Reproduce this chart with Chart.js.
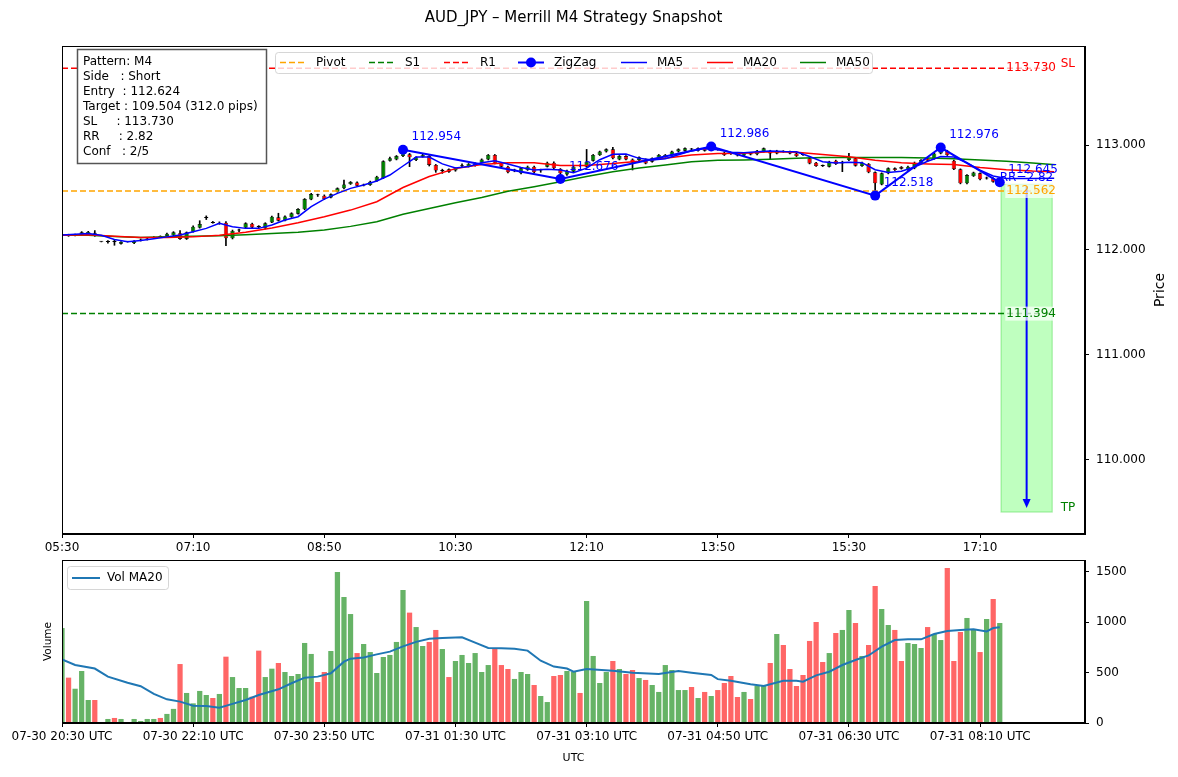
<!DOCTYPE html>
<html><head><meta charset="utf-8">
<script src="https://cdn.jsdelivr.net/npm/chart.js@4.4.0/dist/chart.umd.min.js"></script>
<style>
body{margin:0;background:#fff;width:1178px;height:777px;overflow:hidden;position:relative;}
#c1{position:absolute;left:0;top:0;}
#c2{position:absolute;left:0;top:536px;}
</style></head><body>
<canvas id="c1" width="1178" height="560"></canvas>
<canvas id="c2" width="1178" height="241"></canvas>
<script>
// ---------- DATA ----------
const candleOpen = [112.140,112.145,112.140,112.143,112.155,112.162,112.078,112.075,112.077,112.060,
112.080,112.066,112.090,112.100,112.115,112.127,112.133,112.140,112.160,112.105,
112.174,112.212,112.305,112.263,112.248,112.260,112.111,112.185,112.212,112.250,
112.224,112.206,112.263,112.311,112.282,112.314,112.346,112.387,112.482,112.526,
112.517,112.500,112.555,112.587,112.628,112.644,112.615,112.619,112.657,112.685,
112.850,112.863,112.895,112.911,112.857,112.889,112.895,112.810,112.752,112.768,
112.756,112.797,112.794,112.803,112.832,112.863,112.905,112.825,112.794,112.758,
112.730,112.762,112.794,112.758,112.794,112.832,112.771,112.720,112.746,112.806,
112.794,112.851,112.905,112.937,112.959,112.863,112.895,112.863,112.857,112.863,
112.841,112.873,112.889,112.905,112.937,112.946,112.962,112.946,112.968,112.955,
112.962,112.927,112.925,112.920,112.900,112.925,112.911,112.937,112.946,112.920,
112.940,112.937,112.920,112.910,112.873,112.832,112.803,112.794,112.851,112.825,
112.857,112.873,112.800,112.819,112.740,112.625,112.730,112.778,112.790,112.762,
112.778,112.825,112.870,112.870,112.920,112.946,112.851,112.768,112.635,112.705,
112.730,112.680,112.683,112.635];
const candleHigh = [112.150,112.150,112.152,112.175,112.178,112.185,112.080,112.090,112.095,112.080,
112.083,112.090,112.105,112.110,112.128,112.135,112.162,112.175,112.185,112.172,
112.230,112.279,112.325,112.272,112.268,112.270,112.190,112.200,112.260,112.256,
112.232,112.260,112.322,112.350,112.325,112.355,112.395,112.490,112.540,112.532,
112.525,112.536,112.592,112.666,112.652,112.650,112.628,112.656,112.703,112.850,
112.885,112.900,112.954,112.920,112.888,112.912,112.900,112.815,112.770,112.773,
112.783,112.820,112.824,112.830,112.868,112.910,112.910,112.830,112.800,112.770,
112.783,112.800,112.800,112.770,112.838,112.840,112.776,112.760,112.800,112.812,
112.958,112.910,112.942,112.964,112.978,112.900,112.900,112.868,112.888,112.868,
112.878,112.910,112.910,112.942,112.964,112.973,112.968,112.973,112.973,112.986,
112.968,112.932,112.930,112.925,112.925,112.930,112.950,112.972,112.950,112.950,
112.946,112.942,112.925,112.915,112.878,112.836,112.810,112.846,112.856,112.846,
112.920,112.878,112.838,112.824,112.745,112.735,112.783,112.783,112.795,112.800,
112.838,112.862,112.875,112.925,112.976,112.950,112.856,112.773,112.719,112.742,
112.735,112.695,112.688,112.655];
const candleLow = [112.041,112.130,112.135,112.140,112.150,112.130,112.077,112.065,112.045,112.055,
112.075,112.060,112.085,112.095,112.110,112.118,112.130,112.135,112.100,112.100,
112.170,112.208,112.290,112.255,112.245,112.041,112.105,112.175,112.205,112.210,
112.210,112.200,112.260,112.275,112.278,112.310,112.342,112.383,112.478,112.510,
112.480,112.495,112.550,112.582,112.624,112.608,112.610,112.615,112.652,112.680,
112.845,112.858,112.890,112.794,112.852,112.884,112.800,112.740,112.730,112.740,
112.750,112.790,112.790,112.798,112.828,112.858,112.820,112.790,112.735,112.745,
112.725,112.758,112.735,112.740,112.790,112.770,112.676,112.710,112.740,112.795,
112.790,112.846,112.900,112.932,112.868,112.858,112.858,112.762,112.852,112.820,
112.836,112.868,112.884,112.900,112.932,112.941,112.952,112.941,112.941,112.950,
112.950,112.900,112.910,112.895,112.895,112.905,112.906,112.932,112.863,112.915,
112.930,112.915,112.890,112.900,112.820,112.795,112.795,112.790,112.814,112.746,
112.852,112.798,112.795,112.735,112.518,112.620,112.725,112.757,112.770,112.757,
112.773,112.820,112.845,112.865,112.915,112.900,112.765,112.630,112.630,112.700,
112.668,112.675,112.645,112.630];
const candleClose = [112.145,112.140,112.145,112.168,112.172,112.155,112.079,112.077,112.075,112.076,
112.078,112.085,112.100,112.106,112.122,112.123,112.155,112.168,112.105,112.168,
112.222,112.247,112.310,112.258,112.254,112.111,112.181,112.192,112.254,112.215,
112.220,112.254,112.317,112.279,112.320,112.349,112.390,112.485,112.533,112.522,
112.485,112.530,112.587,112.625,112.647,112.612,112.622,112.651,112.698,112.845,
112.875,112.895,112.935,112.883,112.883,112.905,112.810,112.757,112.757,112.746,
112.778,112.803,112.819,112.825,112.863,112.905,112.825,112.794,112.740,112.765,
112.778,112.794,112.740,112.765,112.832,112.778,112.730,112.755,112.794,112.800,
112.841,112.905,112.937,112.959,112.873,112.895,112.863,112.832,112.883,112.825,
112.873,112.905,112.905,112.937,112.959,112.968,112.958,112.968,112.946,112.965,
112.955,112.905,112.915,112.900,112.920,112.910,112.946,112.968,112.920,112.946,
112.935,112.920,112.895,112.905,112.825,112.800,112.800,112.841,112.819,112.841,
112.883,112.803,112.832,112.740,112.635,112.730,112.778,112.762,112.775,112.794,
112.832,112.857,112.850,112.920,112.946,112.905,112.770,112.635,112.714,112.737,
112.673,112.690,112.650,112.648];
const volume = [942,450,340,516,228,228,0,40,50,40,
10,40,20,40,40,50,90,140,585,298,
195,318,278,248,288,658,456,347,347,261,
718,456,539,595,506,466,486,794,685,407,
506,714,1498,1250,1081,694,784,704,496,655,
675,804,1320,1095,952,764,804,923,734,456,
615,675,595,694,506,575,744,575,536,437,
506,486,377,268,208,466,476,516,506,298,
1210,665,397,506,615,536,486,526,446,427,
377,308,575,526,327,327,357,248,308,268,
327,397,466,258,308,238,367,367,595,883,
774,536,367,476,814,1002,605,694,893,923,
1121,992,665,774,1359,1131,972,923,615,794,
784,744,952,883,823,1538,615,903,1042,923,
704,1032,1230,992];
const ma5 = [[0,112.143],[2,112.15],[4,112.158],[6,112.14],[8,112.1],[10,112.079],[12,112.09],[14,112.108],[16,112.125],[18,112.143],
[20,112.174],[22,112.206],[24,112.254],[26,112.222],[28,112.206],[30,112.206],[32,112.238],[34,112.286],[36,112.317],[38,112.413],
[40,112.485],[42,112.539],[44,112.587],[46,112.619],[48,112.657],[50,112.714],[52,112.8],[54,112.885],[56,112.885],[58,112.82],
[60,112.782],[62,112.795],[64,112.83],[66,112.85],[68,112.82],[70,112.785],[72,112.762],[74,112.768],[76,112.762],[78,112.736],
[80,112.78],[82,112.86],[84,112.912],[86,112.914],[88,112.873],[90,112.857],[92,112.87],[94,112.908],[96,112.944],[98,112.966],
[100,112.955],[102,112.93],[104,112.926],[106,112.935],[108,112.942],[110,112.937],[112,112.935],[114,112.89],[116,112.84],[118,112.828],
[120,112.835],[122,112.832],[124,112.765],[126,112.738],[128,112.75],[130,112.79],[132,112.845],[134,112.89],[136,112.885],[138,112.83],
[140,112.76],[142,112.705],[144,112.68],[148,112.68],[151.3,112.683]];
const ma20 = [[0,112.14],[4,112.145],[8,112.13],[12,112.118],[16,112.12],[20,112.125],[24,112.14],[28,112.168],[32,112.21],[36,112.26],
[40,112.317],[44,112.38],[48,112.46],[52,112.595],[56,112.70],[60,112.775],[64,112.815],[68,112.832],[72,112.83],[76,112.805],
[80,112.805],[84,112.825],[88,112.845],[92,112.873],[96,112.905],[100,112.918],[104,112.922],[108,112.935],[112,112.932],[116,112.91],
[120,112.888],[124,112.855],[128,112.83],[132,112.82],[136,112.815],[140,112.785],[144,112.765],[148,112.752],[151.3,112.746]];
const ma50 = [[0,112.14],[4,112.14],[8,112.128],[12,112.12],[16,112.125],[20,112.13],[24,112.135],[28,112.145],[32,112.157],[36,112.17],
[40,112.19],[44,112.225],[48,112.27],[52,112.34],[56,112.395],[60,112.45],[64,112.50],[68,112.56],[72,112.603],[76,112.65],
[80,112.70],[84,112.745],[88,112.78],[92,112.81],[96,112.84],[100,112.855],[104,112.858],[108,112.864],[112,112.875],[116,112.88],
[120,112.882],[124,112.882],[128,112.88],[132,112.877],[136,112.87],[140,112.858],[144,112.845],[148,112.828],[151.5,112.812]];
const volMA20 = [[0,632],[2,575],[5,540],[7,460],[10,400],[12,365],[14,288],[16,235],[18,212],[20,172],[22,168],[24,152],[26,190],[28,228],
[30,278],[33,334],[35,394],[37,450],[39,460],[41,493],[43,608],[44,638],[46,650],[48,681],[50,708],[52,760],[54,805],[56,835],[58,843],
[61,850],[63,797],[65,745],[67,741],[69,737],[71,718],[73,618],[75,560],[77,540],[78,509],[80,535],[84,519],[87,499],[91,486],[94,516],
[96,499],[99,476],[100,435],[102,420],[105,384],[107,367],[110,420],[112,420],[113,410],[115,473],[117,509],[119,575],[121,625],[123,670],
[125,757],[127,823],[129,830],[131,830],[133,883],[135,913],[137,923],[139,929],[141,909],[142,942],[143,949]];
const zigzagIdx = [52,76,99,124,134,143];
const zigzagVal = [112.954,112.676,112.986,112.518,112.976,112.645];
const pivotPrice = 112.562, s1Price = 111.394, r1Price = 113.730;
const entryPrice = 112.624, targetPrice = 109.504, slPrice = 113.730, rrValue = '2.82';
const infoLines = ['Pattern: M4','Side   : Short','Entry  : 112.624','Target : 109.504 (312.0 pips)','SL     : 113.730','RR     : 2.82','Conf   : 2/5'];
const xTickIdx = [0,20,40,60,80,100,120,140];
const priceTimeLabels = ['05:30','07:10','08:50','10:30','12:10','13:50','15:30','17:10'];
const volTimeLabels = ['07-30 20:30 UTC','07-30 22:10 UTC','07-30 23:50 UTC','07-31 01:30 UTC','07-31 03:10 UTC','07-31 04:50 UTC','07-31 06:30 UTC','07-31 08:10 UTC'];
const priceTicks = [110,111,112,113];
const volTicks = [0,500,1000,1500];

// ---------- HELPERS ----------
Chart.defaults.font.family = "'DejaVu Sans', sans-serif";
Chart.defaults.font.size = 12;
Chart.defaults.color = '#000';
const FONT = "'DejaVu Sans', sans-serif";
const idx = candleClose.map((_, i) => i);
const isUp = i => candleClose[i] >= candleOpen[i];
const pairs = arr => arr.map(p => ({x: p[0], y: p[1]}));
const hline = v => [{x: 0, y: v}, {x: 151, y: v}];

function text(ctx, s, x, y, color, size, align, base) {
  ctx.font = size + 'px ' + FONT;
  ctx.fillStyle = color; ctx.textAlign = align || 'left'; ctx.textBaseline = base || 'middle';
  ctx.fillText(s, x, y);
}
function roundRect(ctx, x, y, w, h, r) {
  ctx.beginPath();
  ctx.moveTo(x + r, y); ctx.lineTo(x + w - r, y); ctx.quadraticCurveTo(x + w, y, x + w, y + r);
  ctx.lineTo(x + w, y + h - r); ctx.quadraticCurveTo(x + w, y + h, x + w - r, y + h);
  ctx.lineTo(x + r, y + h); ctx.quadraticCurveTo(x, y + h, x, y + h - r);
  ctx.lineTo(x, y + r); ctx.quadraticCurveTo(x, y, x + r, y); ctx.closePath();
}
function frame(chart) {
  const a = chart.chartArea, ctx = chart.ctx;
  ctx.save(); ctx.strokeStyle = '#000'; ctx.lineWidth = 1;
  ctx.strokeRect(Math.round(a.left) + 0.5, Math.round(a.top) + 0.5, Math.round(a.right - a.left) - 1, Math.round(a.bottom - a.top) - 1);
  ctx.restore();
}
function xScale(labels, h) {
  return {
    type: 'linear', min: 0, max: 156, offset: false,
    afterBuildTicks: s => { s.ticks = xTickIdx.map(v => ({value: v})); },
    afterFit: s => { s.height = h; },
    ticks: {callback: (v, i) => labels[i], autoSkip: false, maxRotation: 0, padding: 3, font: {size: 12}, color: '#000'},
    grid: {offset: false, drawOnChartArea: false, drawTicks: true, tickLength: 4, color: '#000'},
    border: {display: true, color: '#000'}
  };
}
function yScale(min, max, ticks, fmt) {
  return {
    type: 'linear', position: 'right', min: min, max: max,
    afterBuildTicks: s => { s.ticks = ticks.map(v => ({value: v})); },
    afterFit: s => { s.width = 93; },
    ticks: {callback: fmt, padding: 7, font: {size: 12}, color: '#000'},
    grid: {offset: false, drawOnChartArea: false, drawTicks: true, tickLength: 4, color: '#000'},
    border: {display: true, color: '#000'}
  };
}

// ---------- PRICE CHART ----------
const legendItems = [
  {label: 'Pivot', color: '#ffa500', dash: [6, 3], tx: 316},
  {label: 'S1', color: '#008000', dash: [6, 3], tx: 405},
  {label: 'R1', color: '#ff0000', dash: [6, 3], tx: 480},
  {label: 'ZigZag', color: '#0000ff', dash: [], marker: true, tx: 554},
  {label: 'MA5', color: '#0000ff', dash: [], tx: 657},
  {label: 'MA20', color: '#ff0000', dash: [], tx: 743},
  {label: 'MA50', color: '#008000', dash: [], tx: 836}
];

const decor1 = {
  id: 'decor1',
  beforeDatasetsDraw(chart) {
    const {ctx, scales: {x, y}} = chart;
    const x0 = x.getPixelForValue(143.2), x1 = x.getPixelForValue(151);
    const y0 = y.getPixelForValue(entryPrice), y1 = y.getPixelForValue(targetPrice);
    ctx.save();
    ctx.fillStyle = 'rgba(0,255,0,0.25)';
    ctx.fillRect(x0, y0, x1 - x0, y1 - y0);
    ctx.strokeStyle = 'rgba(0,200,0,0.3)'; ctx.lineWidth = 1.2;
    ctx.strokeRect(x0, y0, x1 - x0, y1 - y0);
    ctx.restore();
  },
  afterDatasetsDraw(chart) {
    const {ctx, scales: {x, y}} = chart;
    ctx.save();
    const ax = x.getPixelForValue(147.1);
    const ay0 = y.getPixelForValue(entryPrice) + 2, ay1 = y.getPixelForValue(targetPrice) - 4;
    ctx.strokeStyle = '#0000ff'; ctx.fillStyle = '#0000ff'; ctx.lineWidth = 2;
    ctx.beginPath(); ctx.moveTo(ax, ay0); ctx.lineTo(ax, ay1 - 6); ctx.stroke();
    ctx.beginPath(); ctx.moveTo(ax, ay1); ctx.lineTo(ax - 4, ay1 - 9); ctx.lineTo(ax + 4, ay1 - 9); ctx.closePath(); ctx.fill();
    const lx = x.getPixelForValue(144);
    [[slPrice, '#ff0000'], [pivotPrice, '#ffa500'], [s1Price, '#008000']].forEach(([v, c]) => {
      const py = y.getPixelForValue(v);
      ctx.fillStyle = 'rgba(255,255,255,0.7)';
      ctx.fillRect(lx - 1, py - 7, 51, 14);
      text(ctx, v.toFixed(3), lx, py, c, 12);
    });
    const tx = x.getPixelForValue(152.3);
    text(ctx, 'SL', tx, y.getPixelForValue(slPrice) - 4, '#ff0000', 12);
    text(ctx, 'TP', tx, y.getPixelForValue(targetPrice) - 4, '#008000', 12);
    zigzagIdx.forEach((xi, k) => {
      text(ctx, zigzagVal[k].toFixed(3), x.getPixelForValue(xi) + 8.5, y.getPixelForValue(zigzagVal[k]) - 12.5, '#0000ff', 12);
    });
    text(ctx, 'RR=' + rrValue, x.getPixelForValue(143), y.getPixelForValue(entryPrice) - 1, '#0000ff', 12, 'left', 'bottom');
    ctx.restore();
    frame(chart);
    ctx.save();
    roundRect(ctx, 275.5, 52.5, 597, 21, 3);
    ctx.fillStyle = 'rgba(255,255,255,0.8)'; ctx.fill();
    ctx.strokeStyle = 'rgba(204,204,204,0.8)'; ctx.lineWidth = 1; ctx.stroke();
    legendItems.forEach(it => {
      const cy = 62.5;
      ctx.strokeStyle = it.color; ctx.lineWidth = it.marker ? 2 : 1.5; ctx.setLineDash(it.dash);
      ctx.beginPath(); ctx.moveTo(it.tx - 36, cy); ctx.lineTo(it.tx - 10, cy); ctx.stroke();
      ctx.setLineDash([]);
      if (it.marker) { ctx.fillStyle = it.color; ctx.beginPath(); ctx.arc(it.tx - 23, cy, 5, 0, Math.PI * 2); ctx.fill(); }
      text(ctx, it.label, it.tx, cy, '#000', 12);
    });
    ctx.fillStyle = '#fff'; ctx.fillRect(77, 49, 190, 115);
    ctx.strokeStyle = '#555'; ctx.lineWidth = 1.5; ctx.strokeRect(77.5, 49.5, 189, 114);
    infoLines.forEach((s, k) => text(ctx, s, 83, 62 + 15 * k, '#000', 12));
    ctx.restore();
  },
  afterDraw(chart) {
    const ctx = chart.ctx;
    ctx.save();
    text(ctx, 'AUD_JPY \u2013 Merrill M4 Strategy Snapshot', 573.5, 18, '#000', 15, 'center');
    ctx.translate(1160, 290); ctx.rotate(-Math.PI / 2);
    text(ctx, 'Price', 0, 0, '#000', 14, 'center');
    ctx.restore();
  }
};

new Chart(document.getElementById('c1'), {
  type: 'bar',
  data: {
    datasets: [
      {type: 'line', label: 'ZigZag', data: zigzagIdx.map((xi, k) => ({x: xi, y: zigzagVal[k]})), borderColor: '#0000ff', backgroundColor: '#0000ff', borderWidth: 2, pointRadius: 5, pointBackgroundColor: '#0000ff', pointBorderWidth: 0, order: 1},
      {type: 'line', label: 'MA5', data: pairs(ma5), borderColor: '#0000ff', borderWidth: 1.5, pointRadius: 0, order: 2},
      {type: 'line', label: 'MA20', data: pairs(ma20), borderColor: '#ff0000', borderWidth: 1.5, pointRadius: 0, order: 3},
      {type: 'line', label: 'MA50', data: pairs(ma50), borderColor: '#008000', borderWidth: 1.5, pointRadius: 0, order: 4},
      {type: 'line', label: 'Pivot', data: hline(pivotPrice), borderColor: '#ffa500', borderWidth: 1.5, borderDash: [6, 3], pointRadius: 0, order: 5},
      {type: 'line', label: 'S1', data: hline(s1Price), borderColor: '#008000', borderWidth: 1.5, borderDash: [6, 3], pointRadius: 0, order: 5},
      {type: 'line', label: 'R1', data: hline(r1Price), borderColor: '#ff0000', borderWidth: 1.5, borderDash: [6, 3], pointRadius: 0, order: 5},
      {type: 'bar', label: 'body', data: idx.map(i => ({x: i, y: [candleOpen[i], candleClose[i]]})),
        backgroundColor: idx.map(i => isUp(i) ? '#008000' : '#ff0000'), borderColor: '#000', borderWidth: 0.6, borderSkipped: false,
        barPercentage: 0.65, categoryPercentage: 1, grouped: false, minBarLength: 1, order: 8},
      {type: 'bar', label: 'wick', data: idx.map(i => ({x: i, y: [candleLow[i], candleHigh[i]]})),
        backgroundColor: '#000', barThickness: 1, grouped: false, order: 9}
    ]
  },
  options: {
    responsive: false, animation: false, devicePixelRatio: 1, events: [],
    layout: {padding: {left: 62, top: 46, right: 0, bottom: 0}},
    plugins: {legend: {display: false}, tooltip: {enabled: false}, title: {display: false}},
    scales: {
      x: xScale(priceTimeLabels, 26),
      y: yScale(109.295, 113.943, priceTicks, v => Number(v).toFixed(3))
    }
  },
  plugins: [decor1]
});

// ---------- VOLUME CHART ----------
// canvas top = 536 -> plot top at 560 (24), plot bottom at 723 (187)
const decor2 = {
  id: 'decor2',
  afterDatasetsDraw(chart) {
    const ctx = chart.ctx;
    frame(chart);
    ctx.save();
    roundRect(ctx, 67.5, 30.5, 101, 23, 3);
    ctx.fillStyle = 'rgba(255,255,255,0.8)'; ctx.fill();
    ctx.strokeStyle = 'rgba(204,204,204,0.8)'; ctx.lineWidth = 1; ctx.stroke();
    ctx.strokeStyle = '#1f77b4'; ctx.lineWidth = 2;
    ctx.beginPath(); ctx.moveTo(72, 42); ctx.lineTo(100, 42); ctx.stroke();
    text(ctx, 'Vol MA20', 107, 42, '#000', 12);
    ctx.restore();
  },
  afterDraw(chart) {
    const ctx = chart.ctx;
    ctx.save();
    text(ctx, 'UTC', 573.5, 222, '#000', 11, 'center');
    ctx.translate(48, 105.5); ctx.rotate(-Math.PI / 2);
    text(ctx, 'Volume', 0, 0, '#000', 10.5, 'center');
    ctx.restore();
  }
};

new Chart(document.getElementById('c2'), {
  type: 'bar',
  data: {
    datasets: [
      {type: 'line', label: 'Vol MA20', data: pairs(volMA20), borderColor: '#1f77b4', borderWidth: 2, pointRadius: 0, order: 1},
      {type: 'bar', label: 'Volume', data: idx.map(i => ({x: i, y: volume[i]})),
        backgroundColor: idx.map(i => isUp(i) ? 'rgba(0,128,0,0.6)' : 'rgba(255,0,0,0.6)'),
        barPercentage: 0.8, categoryPercentage: 1, grouped: false, order: 2}
    ]
  },
  options: {
    responsive: false, animation: false, devicePixelRatio: 1, events: [],
    layout: {padding: {left: 62, top: 24, right: 0, bottom: 0}},
    plugins: {legend: {display: false}, tooltip: {enabled: false}},
    scales: {
      x: xScale(volTimeLabels, 54),
      y: yScale(0, 1617, volTicks, v => String(v))
    }
  },
  plugins: [decor2]
});
</script>
</body></html>
